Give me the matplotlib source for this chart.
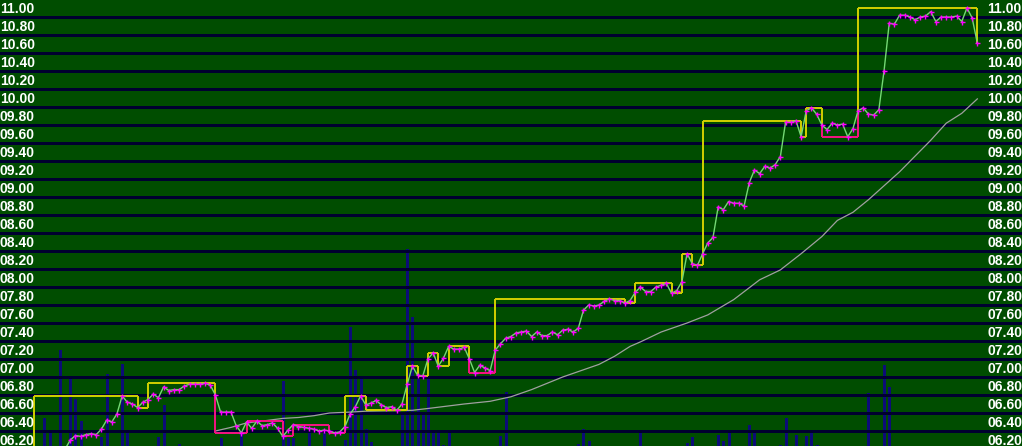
import numpy as np
import matplotlib
matplotlib.use("Agg")
import matplotlib.pyplot as plt
from matplotlib.collections import LineCollection
import matplotlib.transforms as mtransforms

# ---- data ----
# closing prices, sample index starts at price_start
price_start = 6
prices = [6.20, 6.30, 6.35, 6.34, 6.36, 6.37, 6.36, 6.42, 6.52, 6.50, 6.59,
          6.79, 6.72, 6.70, 6.66, 6.72, 6.75, 6.81, 6.77, 6.89, 6.85,
          6.86, 6.86, 6.90, 6.92, 6.92, 6.92, 6.93, 6.91, 6.80, 6.61,
          6.61, 6.61, 6.46, 6.38, 6.50, 6.43, 6.51, 6.46, 6.47, 6.49,
          6.43, 6.34, 6.41, 6.47, 6.45, 6.44, 6.43, 6.42, 6.40, 6.41,
          6.40, 6.38, 6.39, 6.45, 6.59, 6.67, 6.79, 6.69, 6.71, 6.74,
          6.69, 6.66, 6.67, 6.63, 6.70, 6.92, 7.12, 7.02, 7.01, 7.20,
          7.27, 7.12, 7.21, 7.34, 7.31, 7.31, 7.33, 7.20, 7.05, 7.13,
          7.10, 7.07, 7.30, 7.37, 7.43, 7.45, 7.49, 7.50, 7.51, 7.45,
          7.50, 7.46, 7.46, 7.50, 7.47, 7.52, 7.53, 7.50, 7.54, 7.74,
          7.80, 7.79, 7.80, 7.84, 7.87, 7.85, 7.85, 7.82, 7.85, 7.94,
          8.00, 7.95, 7.95, 8.00, 8.02, 8.04, 7.93, 7.96, 8.06, 8.37,
          8.26, 8.24, 8.37, 8.49, 8.55, 8.89, 8.86, 8.95, 8.93, 8.93,
          8.90, 9.16, 9.30, 9.26, 9.34, 9.32, 9.36, 9.45, 9.83, 9.83,
          9.85, 9.67, 9.96, 9.99, 9.92, 9.80, 9.75, 9.82, 9.80, 9.81,
          9.67, 9.76, 9.96, 9.99, 9.92, 9.91, 9.97, 10.40, 10.93, 10.92,
          11.02, 11.02, 11.00, 10.97, 11.00, 11.01, 11.06, 10.95, 11.00, 11.00,
          11.00, 11.01, 10.95, 11.10, 10.99, 10.71]

# tower / kagi line: sample index of each turn and the level it reaches
kagi_start = 6.20
kagi_turns = [0, 20, 22, 35, 41, 48, 50, 57, 60, 64, 72, 74, 76, 78, 80, 84,
              89, 114, 116, 123, 125, 127, 129, 148, 149, 152, 159, 182]
kagi_levels = [6.79, 6.66, 6.93, 6.38, 6.51, 6.34, 6.47, 6.38, 6.79, 6.63,
               7.12, 7.01, 7.27, 7.12, 7.34, 7.05, 7.87, 7.82, 8.04, 7.93,
               8.37, 8.24, 9.85, 9.67, 9.99, 9.67, 11.10, 10.71]

# long moving average
ma_idx = [35, 38, 41, 44, 48, 51, 54, 57, 61, 64, 73, 76, 83, 88, 92, 96, 99,
          102, 105, 109, 112, 115, 117, 121, 126, 130, 135, 140, 144, 148,
          152, 155, 158, 161, 167, 173, 176, 179, 182]
ma_vals = [6.40, 6.44, 6.49, 6.51, 6.54, 6.55, 6.57, 6.60, 6.61, 6.62, 6.63,
           6.65, 6.70, 6.73, 6.78, 6.86, 6.93, 7.00, 7.06, 7.14, 7.23, 7.34,
           7.39, 7.50, 7.60, 7.69, 7.86, 8.08, 8.19, 8.37, 8.56, 8.74, 8.83,
           8.97, 9.28, 9.63, 9.82, 9.93, 10.09]

# volume (arbitrary units)
vol_idx = [2, 3, 5, 7, 8, 9, 13, 14, 17, 18, 24, 25, 28, 36, 40, 48, 49, 50,
           53, 56, 60, 61, 62, 63, 64, 65, 71, 72, 73, 74, 75, 76, 77, 78, 79,
           80, 90, 91, 105, 106, 107, 117, 126, 127, 132, 133, 134, 138, 139,
           144, 145, 147, 149, 150, 151, 161, 164, 165]
vol_vals = [28, 14, 96, 67, 47, 25, 9, 72, 82, 14, 9, 41, 2, 8, 13, 65, 8, 8,
            15, 15, 6, 119, 76, 67, 17, 4, 34, 197, 129, 72, 33, 69, 14, 16, 1,
            14, 10, 54, 2, 17, 5, 15, 3, 9, 11, 5, 14, 21, 13,
            1, 28, 11, 10, 16, 1, 53, 81, 59]

price_ticks = [6.2, 6.4, 6.6, 6.8, 7.0, 7.2, 7.4, 7.6, 7.8, 8.0, 8.2, 8.4, 8.6,
               8.8, 9.0, 9.2, 9.4, 9.6, 9.8, 10.0, 10.2, 10.4, 10.6, 10.8, 11.0]

BG = '#004d00'
GRID = '#000030'
VOL = '#0c0c78'
UP = '#cccc00'
DOWN = '#f0147f'
PRICE = '#74d874'
MARK = '#ff00ff'
MA = '#a0a0a0'


def build_kagi():
    segs, cols = [], []
    state = 'up'
    prev = kagi_start
    x = np.arange(price_start, price_start + len(prices))
    px = dict(zip(x, prices))
    for k, (t, lvl) in enumerate(zip(kagi_turns, kagi_levels)):
        same_dir = kagi_levels[k - 2] if k >= 2 else kagi_start
        going_up = lvl > prev
        switch = False
        if going_up and state == 'down' and lvl > same_dir:
            switch = True
        if not going_up and state == 'up' and k >= 2 and lvl <= same_dir:
            switch = True
        c_old = UP if state == 'up' else DOWN
        if switch:
            mid = px[t]
            segs.append([(t, prev), (t, mid)])
            cols.append(c_old)
            state = 'up' if going_up else 'down'
            segs.append([(t, mid), (t, lvl)])
            cols.append(UP if state == 'up' else DOWN)
        else:
            segs.append([(t, prev), (t, lvl)])
            cols.append(c_old)
        if k + 1 < len(kagi_turns):
            segs.append([(t, lvl), (kagi_turns[k + 1], lvl)])
            cols.append(UP if state == 'up' else DOWN)
        prev = lvl
    return segs, cols


W, H = 1022, 446
fig = plt.figure(figsize=(W / 100, H / 100), dpi=100)
fig.patch.set_facecolor(BG)
ax = fig.add_axes([0, 0, 1, 1])
ax.set_facecolor(BG)

# pixel layout: sample i sits at x = 34 + 5.183*i, 90 px per 1.00 of price
x0, dx = 34.02, 5.183
ax.set_xlim(-x0 / dx, (W - x0) / dx)
ax.set_ylim(11.0 - (H - 17) / 90.0, 11.0 + 17 / 90.0)
ax.axis('off')

for v in price_ticks:
    ax.axhline(v, color=GRID, lw=0.75, zorder=1, antialiased=False)

# volume on its own scale
axv = ax.twinx()
axv.set_ylim(0, H)
axv.axis('off')
axv.vlines(vol_idx, 0, vol_vals, color=VOL, lw=0.8, antialiased=False, zorder=2)

ax.set_zorder(axv.get_zorder() + 1)
ax.patch.set_visible(False)

ax.plot(ma_idx, ma_vals, color=MA, lw=0.9, zorder=3)

segs, cols = build_kagi()
ax.add_collection(LineCollection(segs, colors=cols, linewidths=1.1,
                                 antialiased=False, zorder=4))

xs = np.arange(price_start, price_start + len(prices))
ax.plot(xs, prices, color=PRICE, lw=1.0, zorder=5)
ax.plot(xs, prices, ls='none', marker='+', ms=3.6, mew=1.0, color=MARK, zorder=6)

trans = mtransforms.blended_transform_factory(ax.transAxes, ax.transData)
for v in price_ticks:
    lab = f"{v:05.2f}"
    for xp in (0.0, 987 / W):
        ax.text(xp, v + 4 / 90.0, lab, transform=trans, ha='left', va='baseline',
                color='white', fontsize=10, fontweight='bold',
                family='Liberation Sans', zorder=7)

fig.savefig('out.png', dpi=100, facecolor=BG)
